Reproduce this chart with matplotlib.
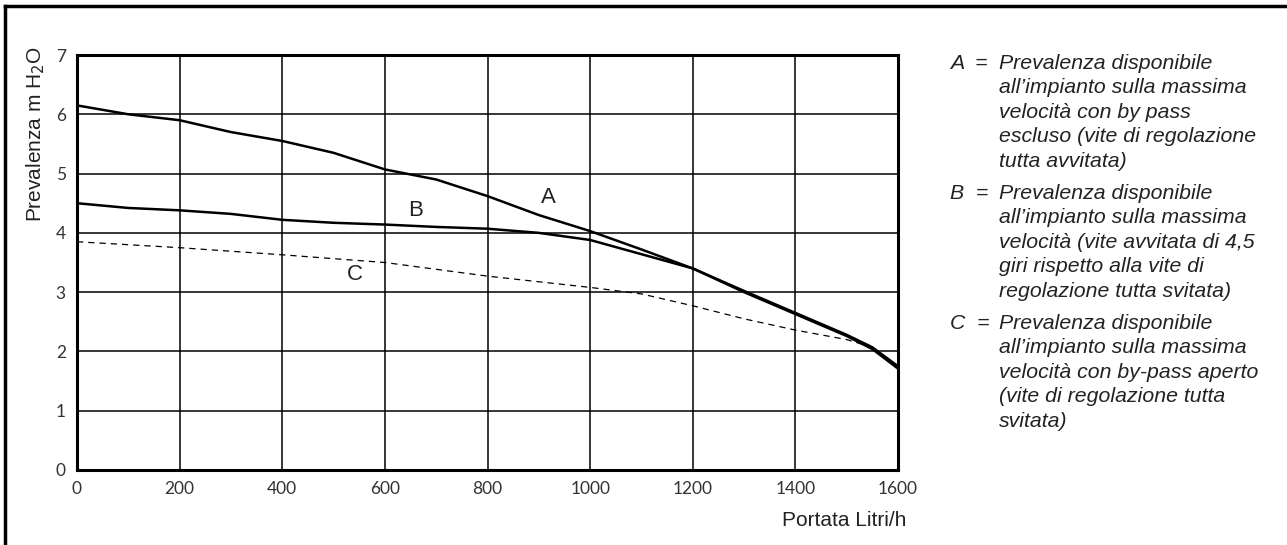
import matplotlib.pyplot as plt
from matplotlib.lines import Line2D

# portata (litri/h) e prevalenza (m H2O)
portata = [0, 100, 200, 300, 400, 500, 600, 700, 800, 900, 1000, 1100, 1200, 1300, 1400, 1500, 1550, 1600]
curva_a = [6.15, 6.0, 5.9, 5.7, 5.55, 5.35, 5.07, 4.9, 4.62, 4.3, 4.03, 3.72, 3.4, 3.02, 2.65, 2.28, 2.07, 1.75]
curva_b = [4.5, 4.42, 4.38, 4.32, 4.22, 4.17, 4.14, 4.1, 4.07, 4.0, 3.88, 3.64, 3.4, 3.0, 2.63, 2.26, 2.04, 1.71]
portata_c = [0, 200, 400, 600, 800, 1000, 1100, 1200, 1300, 1400, 1500, 1550]
curva_c = [3.85, 3.75, 3.63, 3.5, 3.27, 3.08, 2.97, 2.77, 2.55, 2.36, 2.2, 2.07]

etichette = ["A", "B", "C"]
pos_etichette = [(918, 4.6), (659, 4.38), (542, 3.29)]

legenda = [
    "Prevalenza disponibile\nall\u2019impianto sulla massima\nvelocit\u00e0 con by pass\nescluso (vite di regolazione\ntutta avvitata)",
    "Prevalenza disponibile\nall\u2019impianto sulla massima\nvelocit\u00e0 (vite avvitata di 4,5\ngiri rispetto alla vite di\nregolazione tutta svitata)",
    "Prevalenza disponibile\nall\u2019impianto sulla massima\nvelocit\u00e0 con by-pass aperto\n(vite di regolazione tutta\nsvitata)",
]

fig = plt.figure(figsize=(12.87, 5.45), dpi=100)
ax = fig.add_axes([77 / 1287, 1 - 470 / 545, (898 - 77) / 1287, (470 - 55) / 545])

ax.plot(portata, curva_a, color="black", lw=1.8)
ax.plot(portata, curva_b, color="black", lw=1.8)
ax.plot(portata_c, curva_c, color="black", lw=0.9, linestyle=(0, (5, 4)))

for lab, (x, y) in zip(etichette, pos_etichette):
    ax.text(x, y, lab, fontsize=16, family="Liberation Sans", color="#222222",
            ha="center", va="center")

ax.set_xlim(0, 1600)
ax.set_ylim(0, 7)
ax.set_xticks(range(0, 1601, 200))
ax.set_yticks(range(0, 8))
ax.grid(True, color="black", lw=1.1)
ax.tick_params(length=0, labelsize=12.5, labelcolor="#333333", pad=8)
for t in ax.get_xticklabels() + ax.get_yticklabels():
    t.set_family("Lato")
for s in ax.spines.values():
    s.set_linewidth(2.2)

ax.set_ylabel("Prevalenza m H$_2$O", fontsize=15, family="Liberation Sans", color="#222222")
ax.yaxis.set_label_coords(-0.037, 0.81)
fig.text(906 / 1287, 1 - 520 / 545, "Portata Litri/h", fontsize=15, family="Liberation Sans",
         color="#222222", ha="right", va="center")

# legenda a destra
y0 = 1 - 54 / 545
for i, (lab, testo) in enumerate(zip(etichette, legenda)):
    y = y0 - i * 5 * 26 / 545
    fig.text(950 / 1287, y, lab + "  =", fontsize=15.3, family="Liberation Sans",
             style="italic", color="#222222", va="top", ha="left")
    fig.text(999 / 1287, y, testo, fontsize=15.3, family="Liberation Sans",
             style="italic", color="#222222", va="top", ha="left", linespacing=1.36)

# cornice
fig.add_artist(Line2D([5 / 1287, 5 / 1287], [0, 1 - 6 / 545], transform=fig.transFigure,
                      color="black", lw=2.5))
fig.add_artist(Line2D([5 / 1287, 1], [1 - 6 / 545, 1 - 6 / 545], transform=fig.transFigure,
                      color="black", lw=2.5))

fig.savefig("out.png", dpi=100)
